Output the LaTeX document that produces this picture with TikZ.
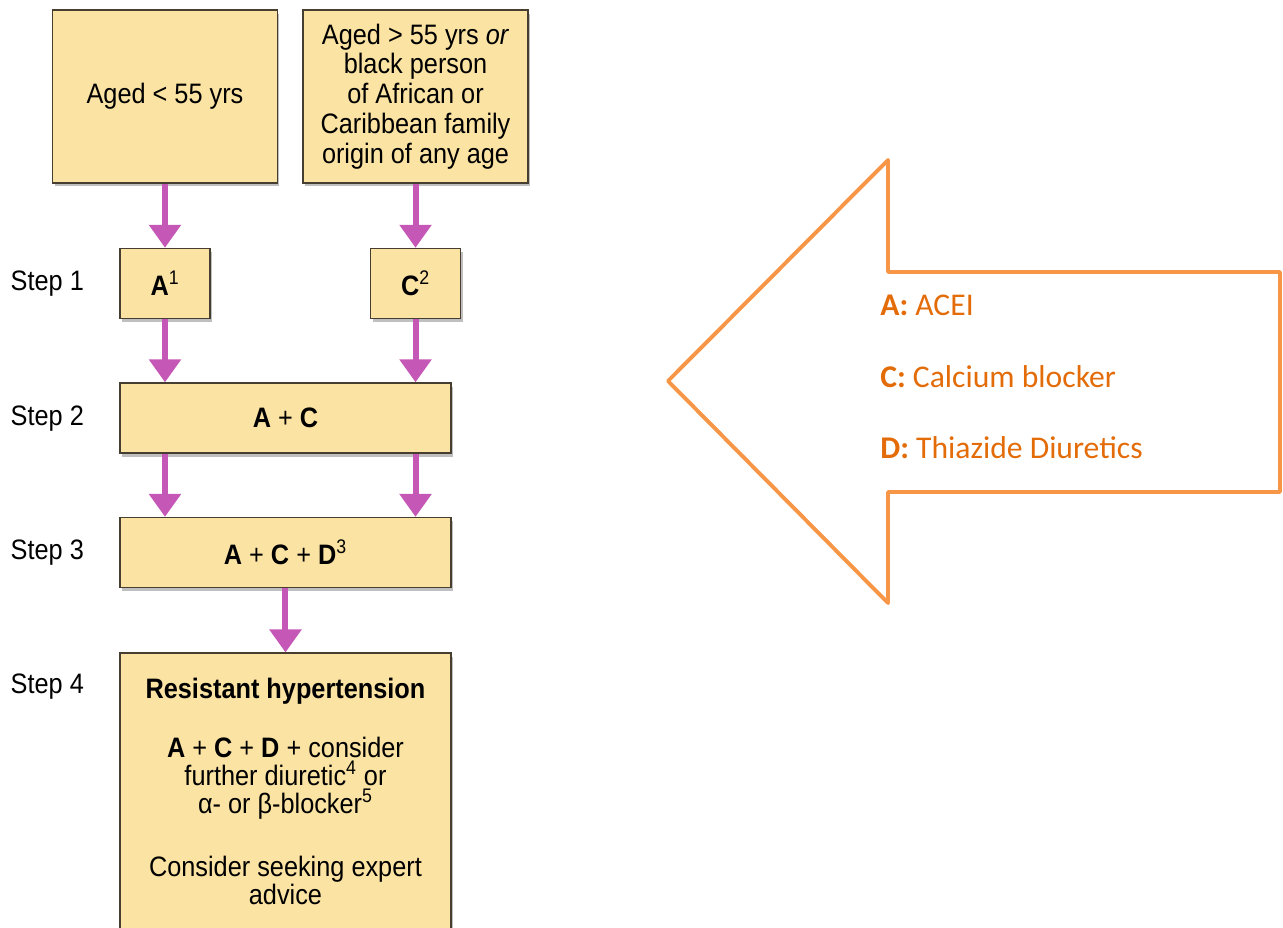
\documentclass[tikz,border=0pt]{standalone}
\usepackage{fontspec}
\setmainfont{Liberation Sans}[FakeStretch=0.9]
\newfontfamily\legendfont{Carlito}
\usetikzlibrary{arrows.meta,positioning,shadows}
\definecolor{boxfill}{RGB}{251,227,163}
\definecolor{boxline}{RGB}{70,62,48}
\definecolor{flowpurple}{RGB}{197,88,182}
\definecolor{legendline}{RGB}{247,150,70}
\definecolor{legendtext}{RGB}{227,108,9}

\begin{document}
\begin{tikzpicture}[
    x=0.02cm, y=-0.02cm,
    font=\fontsize{16pt}{17pt}\selectfont,
    box/.style={draw=boxline, line width=0.9pt, fill=boxfill, align=center, inner sep=2pt,
        drop shadow={shadow xshift=0.04cm, shadow yshift=-0.07cm, opacity=0.25, fill=black}},
    agebox/.style={box, minimum width=4.5cm, minimum height=3.46cm},
    drugbox/.style={box, minimum width=1.8cm, minimum height=1.4cm},
    stepbox/.style={box, minimum width=6.62cm, minimum height=1.4cm},
    steplabel/.style={inner sep=0pt},
    flow/.style={draw=flowpurple, line width=3.4pt, -{Triangle[width=0.62cm,length=0.46cm]}},
    legend/.style={draw=legendline, line width=2.2pt, line join=round},
    legendtxt/.style={anchor=base west, inner sep=0pt, text=legendtext, font=\legendfont\fontsize{18pt}{20pt}\selectfont}
]
\useasboundingbox (0,0) rectangle (1283,927);

% age groups
\node[agebox] (young) at (165,96.5) {Aged < 55 yrs};
\node[agebox, right=0.48cm of young] (older) {Aged > 55 yrs \textit{or}\\black person\\of African or\\Caribbean family\\origin of any age};

% steps
\node[drugbox, below=1.28cm of young] (ace) {\textbf{A}\textsuperscript{1}};
\node[drugbox, below=1.28cm of older] (ccb) {\textbf{C}\textsuperscript{2}};
\node[stepbox, below right=1.26cm and 0cm of ace.south west] (step2) {\textbf{A} + \textbf{C}};
\node[stepbox, below=1.26cm of step2] (step3) {\textbf{A} + \textbf{C} + \textbf{D}\textsuperscript{3}};
\node[box, minimum width=6.62cm, minimum height=5.54cm, below=1.28cm of step3,
      font=\fontsize{16pt}{16pt}\selectfont] (step4)
    {{\bfseries Resistant hypertension}\\[0.6cm]
     \textbf{A} + \textbf{C} + \textbf{D} + consider\\
     further diuretic\textsuperscript{4} or\\
     α- or β-blocker\textsuperscript{5}\\[0.7cm]
     Consider seeking expert\\
     advice};

\node[steplabel, left=0.7cm of ace] (lab1) {Step 1};
\node[steplabel, left=0.7cm of step2] (lab2) {Step 2};
\node[steplabel, left=0.7cm of step3] (lab3) {Step 3};
\node[steplabel, left=0.7cm of step4.north west, yshift=-0.68cm] (lab4) {Step 4};

\draw[flow] (young) -- (ace);
\draw[flow] (older) -- (ccb);
\draw[flow] (ace) -- (ace |- step2.north);
\draw[flow] (ccb) -- (ccb |- step2.north);
\draw[flow] (step2.south -| ace) -- (step3.north -| ace);
\draw[flow] (step2.south -| ccb) -- (step3.north -| ccb);
\draw[flow] (step3) -- (step4);

% key
\draw[legend] (668,381) -- (888,160) -- (888,272) -- (1280,272) -- (1280,492)
    -- (888,492) -- (888,603) -- cycle;
\node[legendtxt] (keya) at (880,315) {\textbf{A:} ACEI};
\node[legendtxt] (keyc) at (880,387) {\textbf{C:} Calcium blocker};
\node[legendtxt] (keyd) at (880,458) {\textbf{D:} Thiazide Diuretics};
\end{tikzpicture}
\end{document}
